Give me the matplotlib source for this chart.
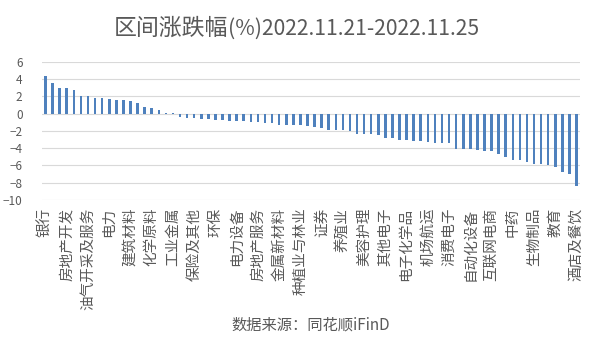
import matplotlib
matplotlib.use('Agg')
import matplotlib.pyplot as plt
import numpy as np

plt.rcParams['font.family'] = ['Noto Sans CJK SC', 'DejaVu Sans']

# 区间涨跌幅(%), 76 个行业, 从高到低
changes = [4.29, 3.59, 3.01, 2.90, 2.78, 2.08, 2.08, 1.85, 1.85, 1.74,
           1.62, 1.62, 1.51, 1.27, 0.81, 0.69, 0.46, 0.12, 0.12, -0.35,
           -0.46, -0.46, -0.58, -0.58, -0.69, -0.69, -0.81, -0.81, -0.81, -0.93,
           -0.93, -1.04, -1.04, -1.27, -1.27, -1.31, -1.31, -1.43, -1.54, -1.66,
           -1.89, -1.89, -1.89, -2.00, -2.35, -2.35, -2.35, -2.47, -2.82, -2.82,
           -3.05, -3.05, -3.17, -3.17, -3.28, -3.40, -3.40, -3.40, -4.09, -4.09,
           -4.09, -4.20, -4.32, -4.32, -4.67, -5.02, -5.37, -5.37, -5.60, -5.83,
           -5.83, -5.98, -6.18, -6.76, -6.99, -8.38]

# 横轴每隔两个行业显示一个名称
tick_labels = ['银行', '房地产开发', '油气开采及服务', '电力', '建筑材料', '化学原料',
               '工业金属', '保险及其他', '环保', '电力设备', '房地产服务', '金属新材料',
               '种植业与林业', '证券', '养殖业', '美容护理', '其他电子', '电子化学品',
               '机场航运', '消费电子', '自动化设备', '互联网电商', '中药', '生物制品',
               '教育', '酒店及餐饮']

# 标题分两段: 中文字偏大, 日期部分偏小
title_cn = '区间涨跌幅'
title_date = '(%)2022.11.21-2022.11.25'
source = '数据来源：同花顺iFinD'

grey = '#595959'

fig = plt.figure(figsize=(5.98, 3.58), dpi=100)
ax = fig.add_axes([0.0702, 0.4413, 0.8998, 0.3864])

x = np.arange(len(changes))
ax.bar(x, changes, width=0.36, color='#4F81BD', zorder=3)

ax.set_xlim(-0.5, len(changes) - 0.5)
ax.set_ylim(-10, 6)
ax.set_yticks(range(-10, 7, 2))
ax.yaxis.grid(True, color='#d9d9d9', linewidth=0.8, zorder=0)
for s in ax.spines.values():
    s.set_visible(False)
ax.tick_params(axis='y', length=0, pad=14, labelsize=8.5, labelcolor=grey)
ax.tick_params(axis='x', length=0, pad=5.5, labelsize=10.5, labelcolor=grey)

ax.set_xticks(x[::3])
ax.set_xticklabels(tick_labels, rotation=90, ha='center', va='top')

fig.text(0.382, 0.92, title_cn, ha='right', va='center', fontsize=16.5, color=grey)
fig.text(0.382, 0.92, title_date, ha='left', va='center', fontsize=15.2, color=grey)
fig.text(0.519, 0.092, source, ha='center', va='center', fontsize=11, color=grey)

plt.savefig('out.png', dpi=100)
plt.close()
